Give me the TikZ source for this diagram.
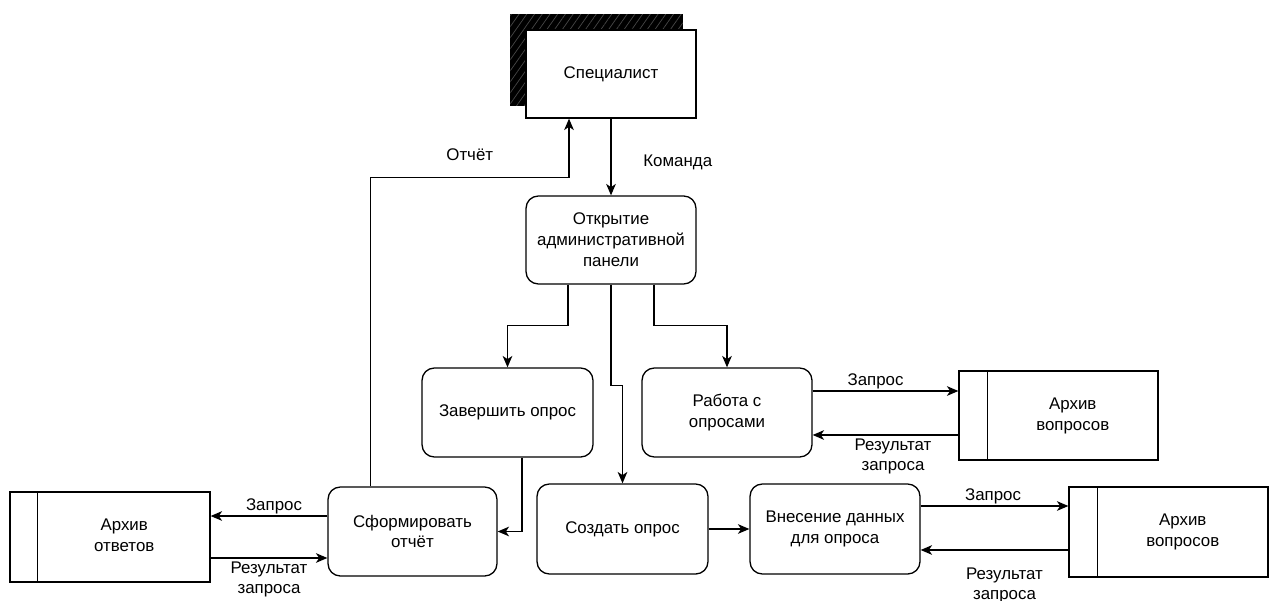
\documentclass[tikz,border=0pt]{standalone}
\usepackage{fontspec}
\setmainfont{Liberation Sans}
\usetikzlibrary{arrows.meta,patterns.meta}
\newcommand{\sttxt}[2]{\hspace*{0.57cm}\begin{tabular}{@{}c@{}}#1\\#2\end{tabular}}
\begin{document}
\begin{tikzpicture}[x=0.02cm,y=-0.02cm,
  font=\fontsize{9.6pt}{11.9pt}\selectfont,
  every path/.style={line width=0.75pt},
  proc/.style={draw, rounded corners=7pt, align=center, minimum width=3.4cm, minimum height=1.78cm, inner sep=2pt},
  store/.style={draw, minimum width=3.98cm, minimum height=1.78cm, inner sep=0pt},
  ent/.style={draw, fill=white, minimum width=3.4cm, minimum height=1.76cm},
  arr/.style={-{Stealth[length=6.5pt,width=5.5pt,inset=1.8pt]}},
  lbl/.style={align=center, inner sep=1pt}]
\useasboundingbox (0,0) rectangle (1275,601);
% shadow of the external entity
\node[draw, fill=black, minimum width=3.42cm, minimum height=1.8cm, inner sep=0pt] (shadow) at (596.5,60) {};
\fill[pattern={Lines[angle=55,distance=3.6pt,line width=0.4pt]}, pattern color=black!72] (shadow.south west) rectangle (shadow.north east);
\node[ent] (spec) at (611,74) {Специалист};
\node[proc, minimum height=1.76cm] (open) at (611,240) {Открытие\\административной\\панели};
\node[proc, minimum width=3.42cm] (finish) at (507.5,412.5) {Завершить опрос};
\node[proc] (work) at (727,412.5) {Работа с\\опросами};
\node[store] (arch1) at (1058.5,415.5) {\sttxt{Архив}{вопросов}};
\node[proc, minimum width=3.38cm] (form) at (412.5,531.5) {Сформировать\\отчёт};
\node[store, minimum width=4cm, minimum height=1.8cm] (ans) at (110,537) {\sttxt{Архив}{ответов}};
\node[proc, minimum width=3.42cm, minimum height=1.8cm] (create) at (622.5,529) {Создать опрос};
\node[proc, minimum height=1.8cm] (vnes) at (835,529) {Внесение данных\\для опроса};
\node[store, minimum height=1.8cm] (arch2) at (1168.5,532) {\sttxt{Архив}{вопросов}};
% store dividers
\draw ([xshift=0.58cm]arch1.north west) -- ([xshift=0.58cm]arch1.south west);
\draw ([xshift=0.56cm]ans.north west) -- ([xshift=0.56cm]ans.south west);
\draw ([xshift=0.58cm]arch2.north west) -- ([xshift=0.58cm]arch2.south west);
% connectors
\draw[arr] (spec.south) -- node[lbl, anchor=west, xshift=0.6cm, yshift=-0.1cm] {Команда} (open.north);
\draw[arr] ([xshift=-0.84cm]form.north) -- ++(0,-309) -| node[lbl, pos=0.25, above, yshift=0.28cm] {Отчёт} ([xshift=-0.84cm]spec.south);
\draw[arr] ([xshift=-0.86cm]open.south) -- ++(0,41) -| (finish.north);
\draw[arr] ([xshift=0.86cm]open.south) -- ++(0,41) -| (work.north);
\draw[arr] (open.south) -- ++(0,101) -| (create.north);
\draw[arr] ([yshift=0.43cm]work.east) -- node[lbl, above, xshift=-0.2cm] {Запрос} ([yshift=0.43cm]work.east -| arch1.west);
\draw[arr] ([yshift=-0.45cm]work.east -| arch1.west) -- node[lbl, below, xshift=0.15cm, yshift=-0.02cm] {Результат\\запроса} ([yshift=-0.45cm]work.east);
\draw[arr] ([xshift=0.29cm]finish.south) |- (form.east);
\draw[arr] ([yshift=0.31cm]form.west) -- node[lbl, above, xshift=0.1cm] {Запрос} ([yshift=0.31cm]form.west -| ans.east);
\draw[arr] ([yshift=-0.42cm]ans.east) -- node[lbl, below, yshift=-0.02cm] {Результат\\запроса} ([yshift=-0.42cm]ans.east -| form.west);
\draw[arr] (create.east) -- (vnes.west);
\draw[arr] ([yshift=0.46cm]vnes.east) -- node[lbl, above, xshift=-0.03cm] {Запрос} ([yshift=0.46cm]vnes.east -| arch2.west);
\draw[arr] ([yshift=-0.42cm]vnes.east -| arch2.west) -- node[lbl, below, xshift=0.2cm, yshift=-0.3cm] {Результат\\запроса} ([yshift=-0.42cm]vnes.east);
\end{tikzpicture}
\end{document}
